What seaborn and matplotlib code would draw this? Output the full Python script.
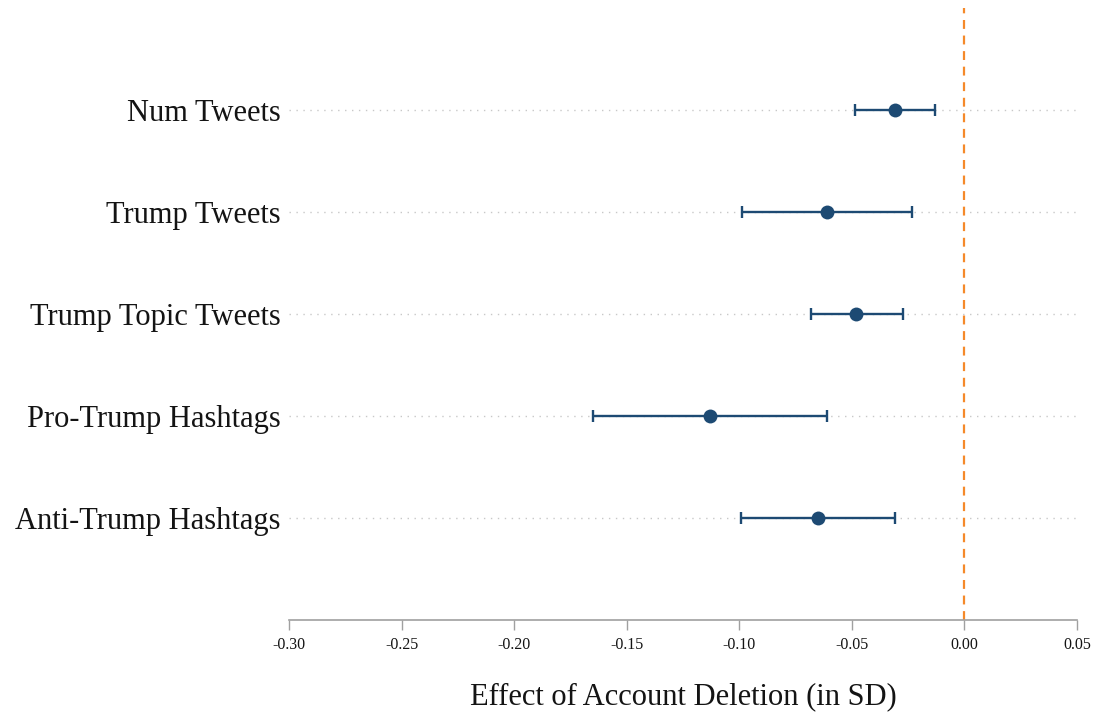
import matplotlib
matplotlib.use("Agg")
import matplotlib.pyplot as plt
import seaborn as sns
import pandas as pd

# Outcome labels (top to bottom) and estimates with 95% intervals
outcomes = ["Num Tweets", "Trump Tweets", "Trump Topic Tweets",
            "Pro-Trump Hashtags", "Anti-Trump Hashtags"]
estimates = [-0.031, -0.061, -0.048, -0.113, -0.065]
ci_low = [-0.0486, -0.0987, -0.0681, -0.1648, -0.0994]
ci_high = [-0.0131, -0.0231, -0.0271, -0.0610, -0.0310]
x_ticks = [-0.30, -0.25, -0.20, -0.15, -0.10, -0.05, 0.00, 0.05]

sns.set_theme(style="white")
plt.rcParams["font.family"] = ["Liberation Serif", "DejaVu Serif"]

df = pd.DataFrame({"outcome": outcomes, "estimate": estimates,
                   "lo": ci_low, "hi": ci_high})
df["pos"] = range(len(df))

navy = "#1d4a73"
orange = "#f5892a"
ink = "#141414"

fig = plt.figure(figsize=(11.03, 7.19), dpi=100)
ax = fig.add_axes([289 / 1103, 1 - 620 / 719, (1077 - 289) / 1103, (620 - 8) / 719])

# dotted guide lines at each outcome row
for p in df["pos"]:
    ax.axhline(p, color="#c8c8c8", lw=1.0, ls=(0, (1, 4)), zorder=0)

ax.axvline(0, color=orange, lw=1.6, ls=(0, (4, 3)), zorder=1)

ax.errorbar(df["estimate"], df["pos"],
            xerr=[df["estimate"] - df["lo"], df["hi"] - df["estimate"]],
            fmt="none", ecolor=navy, elinewidth=1.7, capsize=4.2,
            capthick=1.7, zorder=2)
sns.scatterplot(data=df, x="estimate", y="pos", ax=ax, color=navy,
                s=100, edgecolor=navy, linewidth=0, zorder=3, legend=False)

ax.set_xlim(-0.30, 0.05)
ax.set_ylim(5, -1)
ax.set_xticks(x_ticks)
ax.set_xticklabels([f"{t:.2f}" for t in x_ticks], fontsize=11.5)
ax.set_yticks(df["pos"])
ax.set_yticklabels(outcomes, fontsize=22)
ax.set_ylabel("")
ax.set_xlabel("Effect of Account Deletion (in SD)", fontsize=22,
              labelpad=21, color=ink)

for side in ["top", "right", "left"]:
    ax.spines[side].set_visible(False)
ax.spines["bottom"].set_color("#a0a0a0")
ax.spines["bottom"].set_linewidth(1.2)
ax.tick_params(axis="x", bottom=True, direction="out", length=7.5, width=1.0,
               color="#a0a0a0", pad=5, labelcolor=ink)
ax.tick_params(axis="y", left=False, length=0, pad=6, labelcolor=ink)

fig.savefig("out.png", dpi=100)
